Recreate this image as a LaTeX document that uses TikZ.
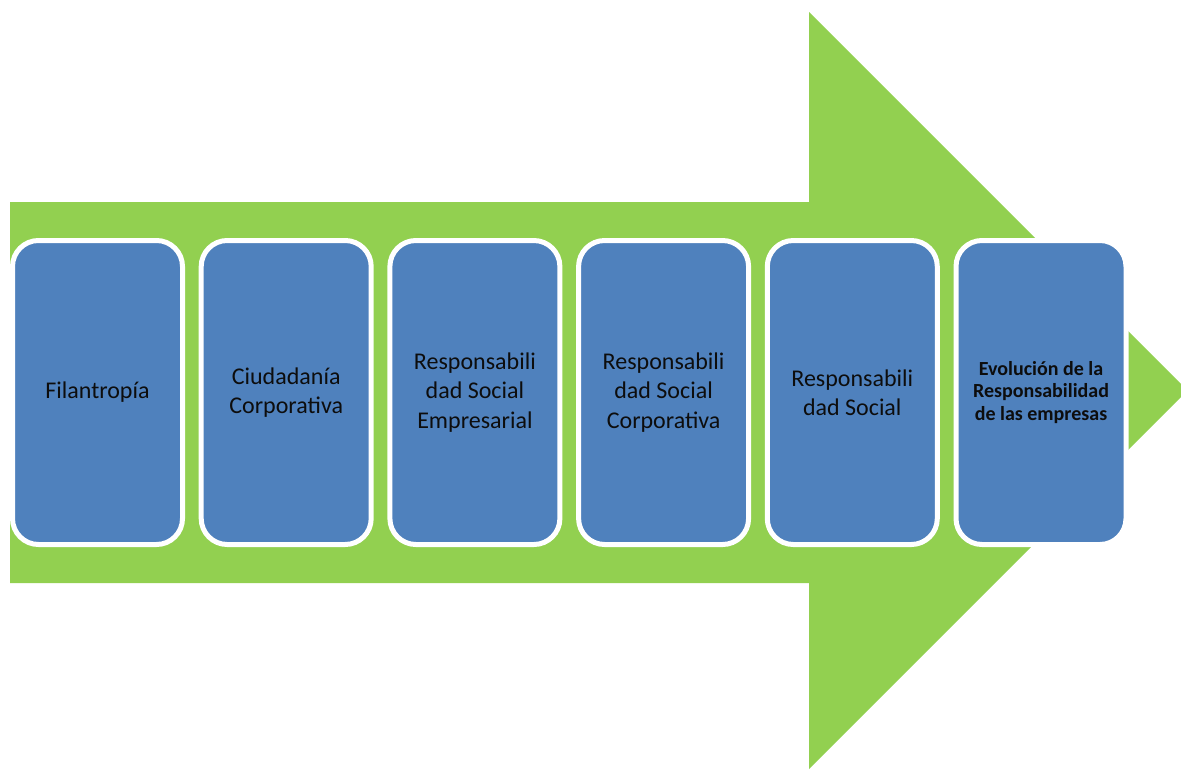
\documentclass[tikz,border=0pt]{standalone}
\usepackage{fontspec}
\setmainfont{Carlito}
\definecolor{arrowgreen}{HTML}{92D050}
\definecolor{boxblue}{HTML}{4F81BD}
\definecolor{txt}{HTML}{0D0D0D}
\begin{document}
\begin{tikzpicture}[x=1pt,y=-1pt,
  stagebox/.style={draw=white, line width=5pt, fill=boxblue, rounded corners=26pt,
    minimum width=170pt, minimum height=304pt, inner sep=0pt, align=center,
    text=txt, font=\fontsize{24}{29.3}\selectfont},
  lastbox/.style={stagebox, font=\bfseries\fontsize{20}{22.5}\selectfont}]
\useasboundingbox (0,0) rectangle (1181,769);
\clip (0,0) rectangle (1181,769);
\fill[arrowgreen] (10,202) -- (809,202) -- (809,12) -- (1187.5,390.5) -- (809,769) -- (809,583) -- (10,583) -- cycle;
\node[stagebox] (b1) at (97.5,392.5) {Filantropía};
\node[stagebox] (b2) at (286.2,392.5) {Ciudadanía\\Corporativa};
\node[stagebox] (b3) at (474.9,392.5) {Responsabili\\dad Social\\Empresarial};
\node[stagebox] (b4) at (663.6,392.5) {Responsabili\\dad Social\\Corporativa};
\node[stagebox] (b5) at (852.3,392.5) {Responsabili\\dad Social};
\node[lastbox] (b6) at (1041,392.5) {Evolución de la\\Responsabilidad\\de las empresas};
\end{tikzpicture}
\end{document}
